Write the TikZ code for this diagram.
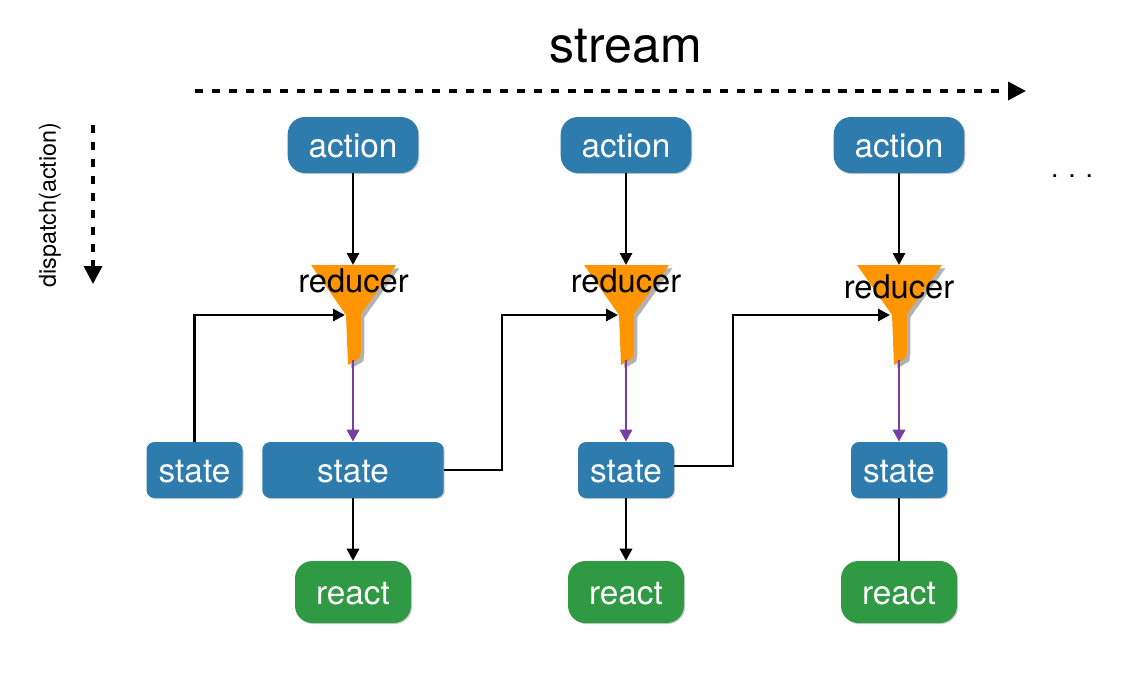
\documentclass[tikz,border=0pt]{standalone}
\usepackage{fontspec}
\setmainfont{TeX Gyre Heros}
\usetikzlibrary{arrows.meta,positioning,shadows}
\definecolor{ACTblue}{RGB}{46,124,174}
\definecolor{REACTgreen}{RGB}{47,153,68}
\definecolor{FUNNELorange}{RGB}{255,149,0}
\definecolor{NEXTpurple}{RGB}{120,63,160}
\tikzset{
    softshadow/.style={drop shadow={shadow xshift=0.8pt, shadow yshift=-0.8pt, opacity=0.2, fill=black}},
    actionbox/.style={fill=ACTblue, text=white, rounded corners=13pt, minimum width=98pt, minimum height=42pt, inner sep=0pt, text height=18.2pt, text depth=0pt, font=\fontsize{25}{25}\selectfont, softshadow},
    statebox/.style={fill=ACTblue, text=white, rounded corners=6pt, minimum width=72pt, minimum height=42pt, inner sep=0pt, text height=18.2pt, text depth=0pt, font=\fontsize{25}{25}\selectfont, softshadow},
    reactbox/.style={fill=REACTgreen, text=white, rounded corners=13pt, minimum width=87pt, minimum height=46.5pt, inner sep=0pt, text height=18.2pt, text depth=0pt, font=\fontsize{25}{25}\selectfont, softshadow},
    reducerlabel/.style={inner sep=0pt, font=\fontsize{24.5}{25}\selectfont},
    link/.style={-{Triangle[length=9pt,width=9pt]}, line width=2.2pt, black},
    nextlink/.style={-{Triangle[length=9pt,width=9pt]}, line width=2.2pt, NEXTpurple},
    timeline/.style={-{Triangle[length=13.5pt,width=13.5pt]}, line width=2.6pt, dash pattern=on 6.2pt off 6.5pt, black},
    funnel/.pic={
        \fill[FUNNELorange, drop shadow={shadow xshift=2.5pt, shadow yshift=-2.5pt, opacity=0.3, fill=black}]
            (-42,0) -- (43,0) -- (8,49) -- (8,85) -- (7,93) -- (-5,100) -- (-7,50) -- cycle;
    }
}
\begin{document}
\begin{tikzpicture}[x=0.75pt, y=-0.75pt]
    \useasboundingbox (0,0) rectangle (1144,672);
    \node[inner sep=0pt, font=\fontsize{37.5}{38}\selectfont] (streamlabel) at (626,46) {stream};
    \coordinate (streamstart) at (195,91);
    \coordinate (streamend) at (1026,91);
    \draw[timeline] (streamstart) -- (streamend);
    \node[inner sep=0pt, rotate=90, font=\fontsize{17.5}{18}\selectfont] (dispatchlabel) at (50,205) {dispatch(action)};
    \coordinate (dispatchstart) at (93,125);
    \coordinate (dispatchend) at (93,284);
    \draw[timeline] (dispatchstart) -- (dispatchend);
    \node[inner sep=0pt, font=\fontsize{20}{20}\selectfont] (more) at (1072,176.5) {. . .};

    \pic at (353,265) {funnel};
    \pic at (626,265) {funnel};
    \pic at (899,265) {funnel};

    \node[actionbox] (action1) at (353,145) {action};
    \node[actionbox] (action2) at (626,145) {action};
    \node[actionbox] (action3) at (899,145) {action};
    \node[statebox] (state0) at (194.5,470) {state};
    \node[statebox, minimum width=136pt] (state1) at (353,470) {state};
    \node[statebox] (state2) at (626,470) {state};
    \node[statebox] (state3) at (899,470) {state};
    \node[reactbox] (react1) at (353,592) {react};
    \node[reactbox] (react2) at (626,592) {react};
    \node[reactbox] (react3) at (899,592) {react};

    \coordinate (top1) at (353,265);
    \coordinate (top2) at (626,265);
    \coordinate (top3) at (899,265);
    \coordinate (in1) at (345,315);
    \coordinate (in2) at (618,315);
    \coordinate (in3) at (890,315);
    \coordinate (out1) at (353,360);
    \coordinate (out2) at (626,360);
    \coordinate (out3) at (899,360);
    \coordinate (exit2) at (674,466);

    \draw[link] (action1) -- (top1);
    \draw[link] (action2) -- (top2);
    \draw[link] (action3) -- (top3);
    \draw[nextlink] (out1) -- (state1);
    \draw[nextlink] (out2) -- (state2);
    \draw[nextlink] (out3) -- (state3);
    \draw[link] (state0.north) |- (in1);
    \draw[link] (state1.east) -- (502,470) |- (in2);
    \draw[link] (exit2) -- (733,466) |- (in3);
    \draw[link] (state1) -- (react1);
    \draw[link] (state2) -- (react2);
    \draw[line width=2.2pt] (state3) -- (react3);

    \node[reducerlabel] (reducer1) at (353.5,281) {reducer};
    \node[reducerlabel] (reducer2) at (626,281) {reducer};
    \node[reducerlabel] (reducer3) at (899,287) {reducer};
\end{tikzpicture}
\end{document}
